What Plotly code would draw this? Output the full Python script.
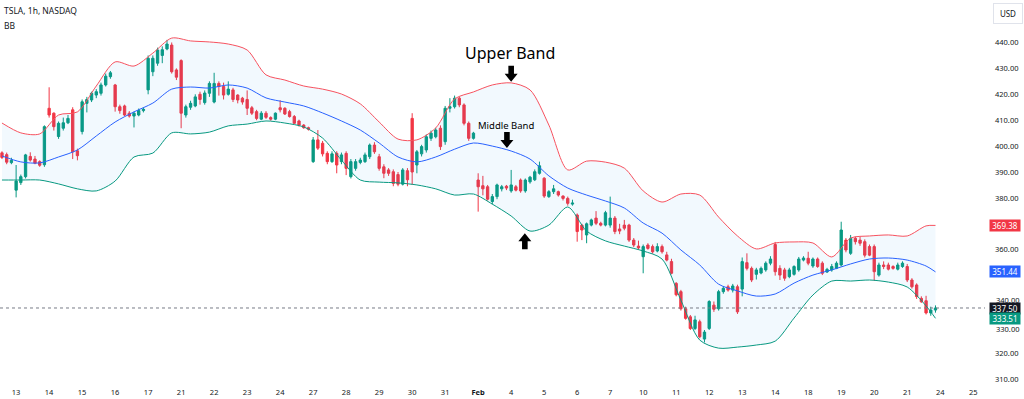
import plotly.graph_objects as go

# ---------------- data ----------------
# hourly candles: Jan 10 (last 3 bars) then 7 bars per trading day
day_names = ["13", "14", "15", "16", "17", "21", "22", "23", "24", "27", "28", "29", "30", "31",
             "Feb", "4", "5", "6", "7", "10", "11", "12", "13", "14", "18", "19", "20", "21", "24", "25"]

opens = [
    397.4, 396.7, 393.6,                                   # Jan 10
    383.0, 385.9, 388.2, 396.0, 395.0, 394.0, 392.8,       # Jan 13
    414.6, 412.7, 403.7, 406.9, 409.0, 414.0, 398.2,       # Jan 14
    405.6, 416.5, 417.8, 419.7, 420.4, 423.6, 426.8,       # Jan 15
    423.6, 415.2, 415.5, 412.7, 411.6, 412.0, 413.7,       # Jan 16
    421.7, 428.7, 432.0, 435.0, 437.5, 439.0, 429.4,       # Jan 17
    433.0, 412.0, 415.0, 415.5, 420.0, 416.8, 420.4,       # Jan 21
    417.0, 424.2, 423.0, 420.0, 421.7, 419.7, 418.5,       # Jan 22
    418.0, 414.8, 413.3, 410.4, 412.7, 411.0, 410.4,       # Jan 23
    414.8, 414.6, 413.3, 411.4, 409.7, 408.1, 407.1,       # Jan 24
    394.0, 402.4, 401.1, 397.2, 394.0, 397.2, 394.0,       # Jan 27
    397.2, 388.2, 391.4, 393.7, 394.0, 395.9, 400.4,       # Jan 28
    395.9, 392.0, 390.8, 390.1, 389.0, 385.3, 390.5,       # Jan 29
    410.7, 392.7, 397.0, 398.5, 403.0, 403.6, 406.9,       # Jan 30
    401.7, 414.6, 415.2, 418.5, 415.9, 408.8, 403.0,       # Jan 31
    386.9, 384.7, 384.3, 378.6, 380.5, 383.5, 384.5,       # Feb 3
    382.7, 384.3, 386.9, 382.7, 386.2, 387.0, 389.5,       # Feb 4
    387.6, 380.5, 382.4, 382.4, 380.7, 379.8, 377.6,       # Feb 5
    373.4, 369.5, 365.7, 369.5, 372.2, 370.2, 369.5,       # Feb 6
    369.5, 372.2, 368.0, 369.5, 369.5, 363.7, 361.4,       # Feb 7
    357.3, 361.8, 361.2, 359.5, 361.2, 358.0, 355.4,       # Feb 10
    347.0, 343.8, 337.2, 334.1, 329.6, 332.2, 325.5,       # Feb 11
    329.6, 338.6, 337.2, 343.8, 345.7, 344.4, 345.7,       # Feb 12
    344.8, 355.0, 352.8, 350.5, 351.0, 352.2, 354.8,       # Feb 13
    362.0, 352.8, 352.2, 349.6, 350.5, 352.2, 356.0,       # Feb 14
    356.7, 353.7, 356.4, 354.8, 351.4, 352.2, 352.8,       # Feb 18
    354.1, 363.7, 358.6, 364.4, 363.7, 363.1, 361.2,       # Feb 19
    361.2, 350.2, 354.1, 354.1, 353.5, 352.5, 353.5,       # Feb 20
    353.5, 348.3, 346.4, 341.2, 340.3, 335.6, 336.7,       # Feb 21
]
highs = [
    398.0, 397.5, 395.5,
    392.7, 389.0, 397.0, 397.6, 396.2, 394.5, 408.0,
    422.7, 413.0, 409.5, 411.0, 412.0, 415.0, 399.0,
    418.0, 419.0, 421.0, 422.0, 424.5, 428.0, 429.0,
    424.0, 416.0, 416.0, 413.5, 413.3, 414.5, 415.0,
    435.0, 435.0, 438.0, 438.5, 441.0, 440.0, 430.0,
    433.5, 416.0, 417.5, 420.0, 421.0, 421.5, 425.0,
    428.3, 425.0, 424.5, 425.0, 422.5, 420.0, 419.0,
    421.5, 415.5, 414.0, 413.5, 413.5, 411.5, 413.0,
    417.7, 415.0, 414.0, 412.0, 410.2, 408.5, 407.5,
    403.5, 406.2, 402.0, 398.0, 398.0, 398.0, 397.5,
    398.0, 395.0, 395.0, 395.5, 397.5, 401.0, 401.5,
    397.0, 393.0, 391.5, 391.0, 390.0, 391.5, 391.5,
    412.7, 398.5, 400.5, 404.5, 406.0, 407.0, 408.0,
    415.5, 418.5, 419.5, 419.0, 416.5, 409.5, 405.5,
    389.5, 388.5, 385.0, 381.5, 385.5, 385.0, 385.0,
    390.8, 385.0, 387.5, 387.5, 388.5, 391.0, 394.0,
    388.0, 383.0, 385.0, 382.8, 381.0, 380.5, 379.3,
    374.0, 370.0, 370.5, 372.0, 374.9, 370.8, 375.0,
    380.5, 373.0, 370.0, 371.5, 370.0, 364.5, 363.5,
    362.0, 362.5, 362.0, 362.5, 362.0, 359.2, 356.5,
    347.5, 344.5, 338.0, 334.8, 334.5, 333.0, 329.0,
    340.5, 340.0, 344.5, 346.0, 346.5, 346.8, 346.5,
    357.0, 358.6, 353.5, 353.0, 353.5, 355.5, 357.5,
    363.0, 354.0, 353.0, 353.0, 354.0, 357.2, 357.5,
    359.2, 357.0, 357.0, 355.5, 353.0, 354.5, 355.5,
    370.8, 364.5, 365.7, 365.0, 365.0, 364.0, 362.0,
    362.0, 355.0, 355.5, 355.0, 354.0, 355.0, 355.5,
    354.5, 349.0, 347.0, 342.0, 342.2, 338.0, 338.5,
]
lows = [
    395.0, 393.0, 393.0,
    380.2, 385.0, 387.5, 394.0, 393.0, 392.0, 392.0,
    411.0, 406.0, 402.8, 406.0, 408.5, 395.0, 394.5,
    404.5, 413.0, 417.0, 418.5, 419.5, 423.0, 426.0,
    413.3, 412.5, 411.5, 411.0, 407.2, 411.5, 413.0,
    420.0, 427.0, 431.0, 432.0, 437.0, 428.0, 425.5,
    406.9, 411.0, 414.0, 415.0, 416.0, 416.0, 419.0,
    416.5, 419.5, 418.0, 419.5, 417.0, 416.5, 416.0,
    412.0, 412.0, 410.0, 410.0, 410.5, 409.8, 410.0,
    413.0, 412.0, 411.0, 408.5, 407.5, 406.7, 406.0,
    393.5, 398.5, 396.0, 393.0, 393.5, 389.5, 393.0,
    388.8, 387.5, 390.5, 393.0, 393.5, 395.0, 397.0,
    390.5, 387.6, 388.5, 384.5, 384.5, 384.8, 384.5,
    385.0, 389.5, 396.0, 397.5, 402.0, 403.0, 398.5,
    400.5, 413.0, 414.5, 415.0, 408.0, 402.0, 402.5,
    374.7, 381.0, 379.0, 377.5, 379.5, 382.5, 383.0,
    382.0, 382.5, 382.0, 382.0, 385.5, 386.5, 389.0,
    380.0, 380.0, 381.5, 380.5, 379.0, 377.0, 377.0,
    363.1, 363.7, 362.5, 369.0, 369.5, 369.0, 369.0,
    368.5, 366.0, 366.0, 367.5, 363.0, 361.0, 360.0,
    350.9, 360.0, 358.5, 359.0, 358.5, 355.5, 350.5,
    342.0, 336.5, 333.0, 329.0, 329.0, 325.8, 324.2,
    329.0, 336.0, 336.5, 343.0, 343.8, 343.5, 335.2,
    342.0, 352.0, 347.5, 348.5, 350.5, 351.5, 354.0,
    350.0, 348.3, 348.0, 349.0, 350.0, 351.5, 355.5,
    354.0, 353.0, 353.0, 350.2, 351.0, 351.5, 352.5,
    353.5, 359.0, 358.0, 362.0, 361.5, 357.0, 357.5,
    348.0, 349.6, 352.5, 352.0, 352.3, 352.0, 353.0,
    347.5, 345.0, 341.0, 339.5, 335.0, 334.5, 335.7,
]
closes = [
    395.6, 393.8, 394.5,
    386.5, 388.2, 396.6, 394.6, 393.4, 392.6, 407.5,
    412.0, 407.5, 408.8, 409.0, 410.7, 397.8, 396.3,
    417.1, 418.0, 420.4, 421.0, 423.6, 427.0, 428.3,
    415.2, 413.7, 412.0, 411.6, 412.7, 413.7, 414.2,
    433.9, 433.9, 437.1, 437.2, 439.4, 428.7, 426.6,
    412.7, 415.2, 416.5, 419.0, 418.0, 420.5, 424.2,
    424.2, 423.0, 419.7, 422.0, 418.0, 417.8, 417.0,
    414.6, 412.7, 410.7, 412.7, 411.1, 410.4, 412.7,
    414.0, 412.4, 411.4, 408.8, 408.1, 407.1, 406.5,
    402.4, 399.2, 397.0, 394.0, 397.0, 392.7, 396.6,
    391.4, 394.0, 394.0, 394.6, 396.6, 400.4, 397.8,
    391.4, 389.5, 389.5, 385.6, 385.3, 390.8, 387.0,
    390.0, 397.8, 399.8, 403.6, 405.0, 406.2, 399.8,
    414.6, 415.2, 418.5, 415.9, 408.8, 403.0, 405.0,
    384.3, 383.5, 379.5, 380.5, 385.0, 384.3, 383.8,
    385.0, 383.0, 382.7, 386.9, 388.0, 390.1, 392.4,
    380.7, 382.4, 383.5, 381.1, 379.8, 377.9, 378.0,
    367.0, 367.6, 370.0, 371.5, 370.2, 369.5, 374.3,
    372.2, 367.0, 367.2, 368.3, 363.7, 361.8, 360.7,
    361.2, 360.5, 359.2, 361.2, 359.2, 356.0, 350.9,
    342.6, 337.2, 333.5, 329.6, 332.9, 326.4, 328.2,
    340.0, 337.0, 343.8, 345.1, 344.4, 346.0, 336.0,
    355.4, 352.8, 348.3, 352.2, 352.8, 354.8, 356.4,
    351.5, 350.2, 349.0, 352.2, 353.5, 356.4, 356.8,
    354.8, 356.4, 353.5, 350.9, 352.4, 353.5, 354.8,
    367.6, 359.9, 364.4, 363.1, 362.5, 357.9, 357.9,
    351.5, 354.1, 353.5, 352.5, 352.8, 354.1, 354.8,
    348.3, 345.7, 341.9, 339.9, 335.6, 336.7, 337.5,
]

band_idx = list(range(0, 197, 4)) + [198]
upper = [408.9, 405.1, 404.7, 412.0, 413.2, 423.2, 432.5, 430.9, 435.9, 441.7,
         440.6, 440.2, 439.4, 437.1, 427.5, 425.5, 423.2, 422.0, 420.1, 416.3,
         409.3, 402.7, 402.4, 407.0, 418.2, 420.9, 423.6, 424.4, 421.7, 408.1,
         390.8, 394.2, 393.8, 391.5, 382.7, 378.4, 381.5, 381.1, 372.6, 365.3,
         360.3, 362.6, 363.0, 362.6, 357.2, 364.5, 365.3, 365.7, 365.3, 369.2,
         369.38]
middle = [396.2, 393.9, 393.5, 395.8, 398.5, 403.9, 409.3, 413.2, 416.6, 422.0,
          422.8, 422.4, 423.6, 422.4, 418.6, 417.0, 415.5, 412.8, 409.7, 406.2,
          401.2, 395.8, 393.9, 395.8, 398.8, 401.2, 400.0, 398.1, 395.0, 388.5,
          383.8, 381.1, 378.8, 376.1, 370.3, 366.4, 359.9, 354.1, 346.7, 344.1,
          342.1, 342.9, 347.1, 350.2, 352.2, 354.5, 356.4, 356.8, 356.0, 353.7,
          351.44]
lower = [386.9, 386.9, 386.9, 385.4, 383.5, 382.7, 386.5, 395.8, 397.3, 405.1,
         404.7, 405.4, 407.8, 408.5, 409.7, 408.9, 407.4, 403.1, 394.6, 386.9,
         386.1, 385.8, 385.0, 383.5, 381.1, 381.5, 377.6, 373.0, 367.2, 369.5,
         376.5, 367.2, 363.4, 361.4, 359.5, 356.4, 340.5, 325.1, 322.0, 322.4,
         323.2, 324.7, 333.6, 342.5, 347.9, 347.9, 348.3, 347.5, 345.6, 338.3,
         333.51]

price_ticks = [440, 430, 420, 410, 400, 390, 380, 360, 320, 310]
price_ticks_behind_boxes = [340, 330]

# ---------------- styling ----------------
GREEN = "#089981"
RED = "#f23645"
BLUE = "#2962ff"
UPPER_C = "#f7525f"
TEXT = "#131722"
FONT = "Noto Sans"
TICK_SIZE = 7.5

x = list(range(len(closes)))
n_pre = 3
bars_per_day = 7
tick_vals = [n_pre + bars_per_day * k for k in range(len(day_names))]
tick_text = [f"<b>{d}</b>" if d == "Feb" else d for d in day_names]

fig = go.Figure()

# band background
fig.add_trace(go.Scatter(x=band_idx, y=lower, mode="lines", line=dict(width=0, shape="spline"),
                         hoverinfo="skip", showlegend=False))
fig.add_trace(go.Scatter(x=band_idx, y=upper, mode="lines", line=dict(width=0, shape="spline"),
                         fill="tonexty", fillcolor="rgba(33,150,243,0.06)",
                         hoverinfo="skip", showlegend=False))
# band lines
fig.add_trace(go.Scatter(x=band_idx, y=upper, mode="lines",
                         line=dict(color=UPPER_C, width=1, shape="spline", smoothing=0.8), showlegend=False))
fig.add_trace(go.Scatter(x=band_idx, y=middle, mode="lines",
                         line=dict(color=BLUE, width=1, shape="spline", smoothing=0.8), showlegend=False))
fig.add_trace(go.Scatter(x=band_idx, y=lower, mode="lines",
                         line=dict(color=GREEN, width=1, shape="spline", smoothing=0.8), showlegend=False))

# candles
fig.add_trace(go.Candlestick(
    x=x, open=opens, high=highs, low=lows, close=closes,
    increasing=dict(line=dict(color=GREEN, width=1), fillcolor=GREEN),
    decreasing=dict(line=dict(color=RED, width=1), fillcolor=RED),
    whiskerwidth=0, showlegend=False,
))

# last-close dotted line
fig.add_shape(type="line", xref="paper", x0=0, x1=1, yref="y", y0=closes[-1], y1=closes[-1],
              line=dict(color="#787b86", width=1, dash="dot"))

# price-scale labels that sit next to the value boxes
for v, shift in zip(price_ticks_behind_boxes, [2, -1.5]):
    fig.add_annotation(xref="paper", x=1, xanchor="left", xshift=9, yref="y", y=v, yshift=shift,
                       text=f"{v:.2f}", showarrow=False,
                       font=dict(color=TEXT, size=TICK_SIZE, family=FONT))

# right-side value labels
def price_box(val, color, shift=0):
    fig.add_annotation(xref="paper", x=1, xanchor="left", xshift=4, yref="y", y=val, yshift=shift,
                       text=f"{val:.2f}", showarrow=False, bgcolor=color, borderpad=0,
                       font=dict(color="white", size=8, family=FONT), width=30, height=11)

price_box(upper[-1], RED)
price_box(middle[-1], BLUE)
price_box(closes[-1], TEXT, shift=-0.5)
price_box(lower[-1], GREEN, shift=-0.5)

# header texts
fig.add_annotation(xref="paper", yref="paper", x=0, y=1, xanchor="left", yanchor="top",
                   xshift=2, yshift=-3, text="TSLA, 1h, NASDAQ", showarrow=False,
                   font=dict(size=8.5, color=TEXT, family=FONT))
fig.add_annotation(xref="paper", yref="paper", x=0, y=1, xanchor="left", yanchor="top",
                   xshift=2, yshift=-18, text="BB", showarrow=False,
                   font=dict(size=8.5, color=TEXT, family=FONT))
fig.add_annotation(xref="paper", yref="paper", x=1, y=1, xanchor="left", yanchor="top",
                   xshift=8, yshift=-3, text="USD", showarrow=False, width=20,
                   font=dict(size=8, color=TEXT, family=FONT),
                   bordercolor="#e0e3eb", borderwidth=1, borderpad=4)

# band call-outs
fig.add_annotation(x=107.8, y=436.0, text="Upper Band", showarrow=False,
                   font=dict(size=16, color="#000000", family=FONT))
fig.add_annotation(x=107.0, y=407.8, text="Middle Band", showarrow=False,
                   font=dict(size=9.5, color="#000000", family=FONT))

down_arrow = "M -2.8,16 L 2.8,16 L 2.8,8 L 6.5,8 L 0,0 L -6.5,8 L -2.8,8 Z"
up_arrow = "M -2.8,-16 L 2.8,-16 L 2.8,-8 L 6.5,-8 L 0,0 L -6.5,-8 L -2.8,-8 Z"
for ax_, ay_, path in [(108.0, 424.8, down_arrow), (107.1, 399.3, down_arrow), (110.9, 366.4, up_arrow)]:
    fig.add_shape(type="path", xref="x", yref="y", xsizemode="pixel", ysizemode="pixel",
                  xanchor=ax_, yanchor=ay_, path=path, fillcolor="#000000",
                  line=dict(width=0))

fig.update_layout(
    width=1024, height=399,
    margin=dict(l=0, r=39, t=0, b=19),
    paper_bgcolor="white", plot_bgcolor="white",
    font=dict(family=FONT, color=TEXT),
    showlegend=False,
    xaxis=dict(range=[-0.42, 208.5], rangeslider=dict(visible=False),
               tickvals=tick_vals, ticktext=tick_text, showgrid=False, zeroline=False,
               showline=False, ticks="", tickfont=dict(size=TICK_SIZE, color=TEXT), ticklabelstandoff=6),
    yaxis=dict(range=[309.7, 456.4], side="right", tickvals=price_ticks,
               ticktext=[f"{v:.2f}" for v in price_ticks], showgrid=False, zeroline=False,
               showline=False, ticks="", tickfont=dict(size=TICK_SIZE, color=TEXT), ticklabelstandoff=9),
)

fig.write_html("out.html", config={"displayModeBar": False},
               post_script="document.body.style.margin='0';document.body.style.overflow='hidden';")
